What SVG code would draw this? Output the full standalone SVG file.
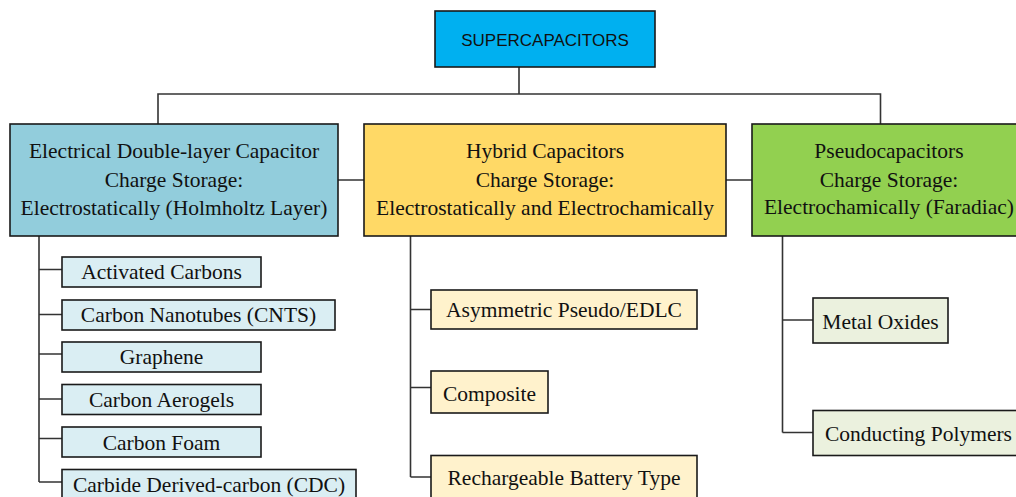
<svg xmlns="http://www.w3.org/2000/svg" width="1016" height="497" viewBox="0 0 1016 497">
<style>
.n{stroke:#1a1a1a;stroke-width:1.6}
.t{font-family:"Liberation Serif","Times New Roman",serif;font-size:21.5px;fill:#111;text-anchor:middle}
.s{font-family:"Liberation Sans",Arial,sans-serif;font-size:17px;fill:#111;text-anchor:middle}
.top{fill:#00B0F0}
.edl{fill:#92CDDC}
.hyb{fill:#FFD966}
.pse{fill:#92D050}
.edc{fill:#DAEEF3}
.hyc{fill:#FFF2CC}
.psc{fill:#EBF1DE}
#connectors path{fill:none;stroke:#333;stroke-width:1.6}
</style>
<rect width="1016" height="497" fill="#fff"/>
<g id="connectors">
<path d="M519 67V94M158 124V94H880.5V124"/>
<path d="M338 180H364M726 180H752"/>
<path d="M39 236V482M39 269.5H62M39 314.5H62M39 354H62M39 399H62M39 438.5H62M39 482H62"/>
<path d="M410.5 236V477M410.5 309.5H431M410.5 387.5H431M410.5 477H431"/>
<path d="M782.5 236V432.5M782.5 320H813M782.5 432.5H813"/>
</g>
<g id="supercapacitors"><rect class="n top" x="435" y="11" width="220" height="56"/><text class="s" x="545" y="45.5">SUPERCAPACITORS</text></g>
<g id="edlc"><rect class="n edl" x="10" y="124" width="328" height="112"/>
<text class="t" x="174" y="158.3">Electrical Double-layer Capacitor</text>
<text class="t" x="174" y="187.3">Charge Storage:</text>
<text class="t" x="174" y="215">Electrostatically (Holmholtz Layer)</text></g>
<g id="hybrid"><rect class="n hyb" x="364" y="124" width="362" height="112"/>
<text class="t" x="545" y="158.3">Hybrid Capacitors</text>
<text class="t" x="545" y="187.3">Charge Storage:</text>
<text class="t" x="545" y="215">Electrostatically and Electrochamically</text></g>
<g id="pseudo"><rect class="n pse" x="752" y="124" width="274" height="112"/>
<text class="t" x="889" y="158.3">Pseudocapacitors</text>
<text class="t" x="889" y="187.3">Charge Storage:</text>
<text class="t" x="889" y="214">Electrochamically (Faradiac)</text></g>
<g id="activated-carbons"><rect class="n edc" x="62" y="257" width="199" height="30"/><text class="t" x="161.5" y="279.3">Activated Carbons</text></g>
<g id="cnts"><rect class="n edc" x="62" y="300" width="273" height="30"/><text class="t" x="198.5" y="321.7">Carbon Nanotubes (CNTS)</text></g>
<g id="graphene"><rect class="n edc" x="62" y="342" width="199" height="30"/><text class="t" x="161.5" y="364">Graphene</text></g>
<g id="aerogels"><rect class="n edc" x="62" y="384.5" width="199" height="30"/><text class="t" x="161.5" y="406.7">Carbon Aerogels</text></g>
<g id="foam"><rect class="n edc" x="62" y="427" width="199" height="30"/><text class="t" x="161.5" y="449.5">Carbon Foam</text></g>
<g id="cdc"><rect class="n edc" x="62" y="469.5" width="294" height="34"/><text class="t" x="209" y="492.3">Carbide Derived-carbon (CDC)</text></g>
<g id="asymmetric"><rect class="n hyc" x="431" y="290" width="266" height="39"/><text class="t" x="564" y="317.3">Asymmetric Pseudo/EDLC</text></g>
<g id="composite"><rect class="n hyc" x="431" y="371" width="117" height="42"/><text class="t" x="489.5" y="400.7">Composite</text></g>
<g id="rechargeable"><rect class="n hyc" x="431" y="455.5" width="266" height="46"/><text class="t" x="564" y="485">Rechargeable Battery Type</text></g>
<g id="metal-oxides"><rect class="n psc" x="813" y="298" width="135" height="45"/><text class="t" x="880.5" y="329">Metal Oxides</text></g>
<g id="conducting-polymers"><rect class="n psc" x="813" y="410.5" width="211" height="45"/><text class="t" x="918.5" y="441.3">Conducting Polymers</text></g>
</svg>
